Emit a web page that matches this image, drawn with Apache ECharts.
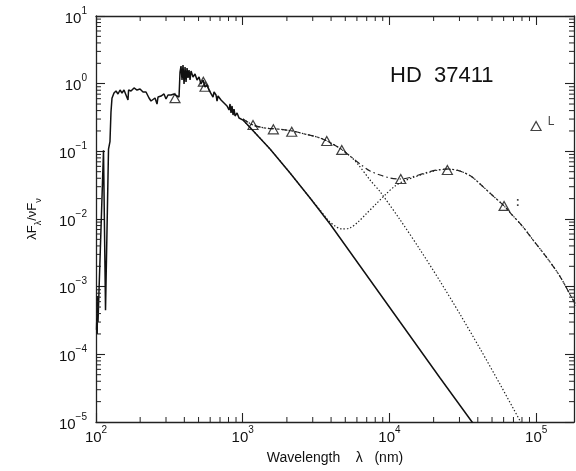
<!DOCTYPE html>
<html>
<head>
<meta charset="utf-8">
<script src="https://cdn.jsdelivr.net/npm/echarts@6/dist/echarts.min.js"></script>
<style>
  html, body { margin: 0; padding: 0; background: #fff; }
  #chart { width: 576px; height: 471px; }
</style>
</head>
<body>
<div id="chart"></div>
<script>
// Axis ranges (wavelength in nm, lambda F_lambda / nu F_nu normalised)
const X_MIN = 100, X_MAX = 181000;
const Y_MIN = 1e-5, Y_MAX = 10;

// Stellar spectrum (UV/optical) joined to the photospheric model tail: [nm, flux]
const starSpectrum = [
  [100.8, 2.3e-4], [101.3, 3.4e-4], [101.9, 2.0e-4], [102.5, 7.3e-4], [103.2, 3.0e-4],
  [112.5, 0.104], [114.3, 0.104], [116.1, 4.5e-4], [118.8, 4.5e-4], [121.7, 0.108],
  [124.5, 0.139], [126.5, 0.381], [128.5, 0.61], [132.6, 0.728], [136.9, 0.779],
  [141.2, 0.704], [145.8, 0.806], [150.4, 0.728], [155.2, 0.806], [160.1, 0.753],
  [165.2, 0.573], [166.8, 0.806], [173.2, 0.779], [181.6, 0.863], [190.3, 0.806],
  [199.5, 0.834], [209.2, 0.753], [219.2, 0.753], [229.8, 0.614], [237.1, 0.554],
  [244.6, 0.593], [252.5, 0.614], [260.5, 0.500], [264.7, 0.635], [277.4, 0.657],
  [290.7, 0.704], [300.0, 0.593], [309.6, 0.680], [324.6, 0.680], [340.2, 0.704],
  [356.6, 0.657], [368.0, 0.635], [373.8, 1.487], [379.7, 1.824], [385.7, 1.133],
  [391.7, 1.887], [398.1, 0.989], [404.4, 1.763], [410.8, 1.059], [417.3, 1.703],
  [423.8, 1.213], [430.5, 1.592], [437.4, 1.133], [444.3, 1.539], [458.4, 1.255],
  [473.0, 1.390], [488.2, 1.133], [503.7, 1.255], [519.6, 0.989], [536.3, 1.133],
  [553.4, 0.893], [571.0, 0.956], [589.3, 0.806], [607.9, 0.834], [627.3, 0.635],
  [637.5, 0.753], [657.7, 0.680], [668.1, 0.554], [678.6, 0.657], [711.3, 0.573],
  [745.6, 0.518], [781.6, 0.468], [806.5, 0.408], [819.2, 0.501], [832.2, 0.369],
  [845.5, 0.468], [858.9, 0.344], [872.5, 0.422], [886.3, 0.333], [914.5, 0.369],
  [943.6, 0.311], [973.6, 0.322], [1005, 0.290], [1122, 0.225], [1535, 0.108],
  [2101, 0.0478], [2876, 0.0204], [3937, 0.00843], [6303, 0.00202], [11810, 3.0e-4],
  [22130, 4.47e-5], [36560, 1.0e-5], [48500, 4.3e-6]
];

// Star + hot dust + cold dust (dash-dot)
const totalModel = [
  [1005, 0.30], [1175, 0.245], [1419, 0.221], [1713, 0.214], [2168, 0.200],
  [2658, 0.180], [3210, 0.163], [3754, 0.142], [4678, 0.108], [5387, 0.0853],
  [6303, 0.0650], [7376, 0.0512], [8630, 0.0447], [10100, 0.0404], [12000, 0.039],
  [14260, 0.0418], [17480, 0.0479], [21110, 0.0530], [25080, 0.0548], [30290, 0.0512],
  [36570, 0.0418], [41460, 0.0329], [50050, 0.0226], [60400, 0.0156], [69600, 0.0111],
  [81400, 0.00762], [95300, 0.00488], [118700, 0.00265], [145500, 0.00141],
  [178400, 6.34e-4], [215000, 3.2e-4]
];

// Star + hot dust (dotted)
const hotModel = [
  [1005, 0.30], [1175, 0.245], [1419, 0.221], [1713, 0.214], [2168, 0.200],
  [2658, 0.180], [3210, 0.163], [3754, 0.142], [4678, 0.108], [5387, 0.0853],
  [6015, 0.0669], [7376, 0.0377], [8630, 0.0253], [11810, 0.00975], [16170, 0.00351],
  [22130, 0.0012], [30290, 3.9e-4], [41460, 1.21e-4], [56750, 3.6e-5],
  [77660, 1.04e-5], [90870, 5.6e-6]
];

// Star + cold dust (dotted)
const coldModel = [
  [1005, 0.290], [1122, 0.225], [1535, 0.108], [2101, 0.0478], [2876, 0.0204],
  [3365, 0.0136], [3815, 0.00966], [4258, 0.00788], [4753, 0.00712], [5387, 0.00736],
  [6110, 0.00903], [6927, 0.01186], [8104, 0.01667], [9480, 0.0234], [10920, 0.0308],
  [12580, 0.0365], [14260, 0.0405], [17480, 0.0470], [21110, 0.0525], [25080, 0.0545],
  [30290, 0.0510], [36570, 0.0418], [41460, 0.0329], [50050, 0.0226], [60400, 0.0156],
  [69600, 0.0111], [81400, 0.00762], [95300, 0.00488], [118700, 0.00265],
  [145500, 0.00141], [178400, 6.34e-4], [215000, 3.2e-4]
];

// Photometry (triangles) and their flags
const photometry = [
  [345.5, 0.61], [538.9, 1.07], [553.4, 0.90], [1175, 0.245], [1617, 0.2115],
  [2158, 0.195], [3738, 0.142], [4730, 0.105], [11940, 0.039], [24810, 0.053],
  [60400, 0.0156], [99800, 0.237]
];
const photometryFlags = ['', '', '', '', '', '', '', '', '', '', ':', 'L'];

// Minor tick positions: 2..9 x 10^k inside each axis range
function minorTicks(lo, hi) {
  const out = [];
  for (let k = Math.floor(Math.log10(lo)); k <= Math.ceil(Math.log10(hi)); k++) {
    for (let m = 2; m <= 9; m++) {
      const v = m * Math.pow(10, k);
      if (v > lo && v < hi) out.push(v);
    }
  }
  return out;
}
const xMinor = minorTicks(X_MIN, X_MAX);
const yMinor = minorTicks(Y_MIN, Y_MAX);

const FONT = '"Liberation Sans", Arial, Helvetica, sans-serif';
const INK = '#111';

function powerLabel(v) {
  const e = Math.round(Math.log10(v));
  const s = e < 0 ? '\u2212' + (-e) : String(e);
  return '{h|\u200b}{b|10}{s|' + s + '}';
}
const powerRich = {
  h: { fontSize: 1, lineHeight: 20, verticalAlign: 'top' },
  b: { fontSize: 15, lineHeight: 15, verticalAlign: 'bottom', color: INK, fontFamily: FONT },
  s: { fontSize: 10, lineHeight: 10, verticalAlign: 'top', color: INK, fontFamily: FONT }
};

const axisLineStyle = { lineStyle: { color: '#222', width: 1.3 } };
const majorTick = { show: true, inside: true, length: 9, lineStyle: { color: '#222', width: 1.1 } };

const chart = echarts.init(document.getElementById('chart'), null, { renderer: 'canvas' });

chart.setOption({
  animation: false,
  backgroundColor: '#fff',
  textStyle: { fontFamily: FONT },
  title: {
    text: 'HD  37411',
    left: 390, top: 65, padding: 0,
    textStyle: { fontSize: 22, fontWeight: 'normal', color: INK, fontFamily: FONT }
  },
  grid: { left: 96, right: 2, top: 16, bottom: 49, containLabel: false },
  xAxis: [
    {
      type: 'log', logBase: 10, min: X_MIN, max: X_MAX, position: 'bottom',
      axisLine: axisLineStyle, axisTick: majorTick, splitLine: { show: false },
      axisLabel: { formatter: powerLabel, rich: powerRich, margin: 3, showMaxLabel: false },
      name: 'Wavelength    \u03bb   (nm)', nameLocation: 'middle', nameGap: 29,
      nameTextStyle: { fontSize: 14, color: INK, fontFamily: FONT }
    },
    {
      type: 'log', logBase: 10, min: X_MIN, max: X_MAX, position: 'top',
      axisLine: axisLineStyle, axisTick: majorTick, splitLine: { show: false },
      axisLabel: { show: false }
    }
  ],
  yAxis: [
    {
      type: 'log', logBase: 10, min: Y_MIN, max: Y_MAX, position: 'left',
      axisLine: axisLineStyle, axisTick: majorTick, splitLine: { show: false },
      axisLabel: { formatter: powerLabel, rich: powerRich, margin: 9, align: 'right' },
      name: '{h|\u200b}{a|\u03bbF}{s|\u03bb}{a|/\u03bdF}{s|\u03bd}',
      nameLocation: 'middle', nameGap: 53,
      nameTextStyle: {
        rich: {
          h: { fontSize: 1, lineHeight: 17, verticalAlign: 'top' },
          a: { fontSize: 13, lineHeight: 13, verticalAlign: 'top', color: INK, fontFamily: FONT },
          s: { fontSize: 9, lineHeight: 9, verticalAlign: 'bottom', color: INK, fontFamily: FONT }
        }
      }
    },
    {
      type: 'log', logBase: 10, min: Y_MIN, max: Y_MAX, position: 'right',
      axisLine: axisLineStyle, axisTick: majorTick, splitLine: { show: false },
      axisLabel: { show: false }
    }
  ],
  series: [
    {
      name: 'star', type: 'line', data: starSpectrum, showSymbol: false, clip: true,
      lineStyle: { color: '#111', width: 1.5 }, z: 5
    },
    {
      name: 'star + hot + cold dust', type: 'line', data: totalModel, showSymbol: false,
      smooth: 0.3, clip: true,
      lineStyle: { color: '#222', width: 1.2, type: [6, 3, 1.5, 3] }, z: 4
    },
    {
      name: 'star + hot dust', type: 'line', data: hotModel, showSymbol: false,
      smooth: 0.3, clip: true,
      lineStyle: { color: '#222', width: 1.2, type: [1.4, 2] }, z: 3
    },
    {
      name: 'star + cold dust', type: 'line', data: coldModel, showSymbol: false,
      smooth: 0.3, clip: true,
      lineStyle: { color: '#222', width: 1.2, type: [1.4, 2] }, z: 3
    },
    {
      name: 'photometry', type: 'scatter', symbol: 'triangle', symbolSize: [10, 9],
      itemStyle: { color: 'rgba(255,255,255,0)', borderColor: '#111', borderWidth: 1.2 },
      data: photometry.map((p, i) => ({
        value: p,
        label: photometryFlags[i] ? {
          show: true, formatter: photometryFlags[i], position: 'right',
          distance: 6,
          offset: [0, photometryFlags[i] === 'L' ? -4 : -3],
          fontSize: 12, fontWeight: photometryFlags[i] === ':' ? 'bold' : 'normal',
          color: INK, fontFamily: FONT
        } : { show: false }
      })),
      z: 6
    }
  ]
});

// Minor ticks on all four sides, placed through the grid's log scales
const MINOR_LEN = 5;
const tickStyle = { stroke: '#222', lineWidth: 1 };
const minorGraphics = [];
xMinor.forEach(v => {
  const b = chart.convertToPixel({ gridIndex: 0 }, [v, Y_MIN]);
  const t = chart.convertToPixel({ gridIndex: 0 }, [v, Y_MAX]);
  minorGraphics.push({ type: 'line', silent: true, z: 10,
    shape: { x1: b[0], y1: b[1], x2: b[0], y2: b[1] - MINOR_LEN }, style: tickStyle });
  minorGraphics.push({ type: 'line', silent: true, z: 10,
    shape: { x1: t[0], y1: t[1], x2: t[0], y2: t[1] + MINOR_LEN }, style: tickStyle });
});
yMinor.forEach(v => {
  const l = chart.convertToPixel({ gridIndex: 0 }, [X_MIN, v]);
  const r = chart.convertToPixel({ gridIndex: 0 }, [X_MAX, v]);
  minorGraphics.push({ type: 'line', silent: true, z: 10,
    shape: { x1: l[0], y1: l[1], x2: l[0] + MINOR_LEN, y2: l[1] }, style: tickStyle });
  minorGraphics.push({ type: 'line', silent: true, z: 10,
    shape: { x1: r[0], y1: r[1], x2: r[0] - MINOR_LEN, y2: r[1] }, style: tickStyle });
});
chart.setOption({ graphic: minorGraphics });
</script>
</body>
</html>
